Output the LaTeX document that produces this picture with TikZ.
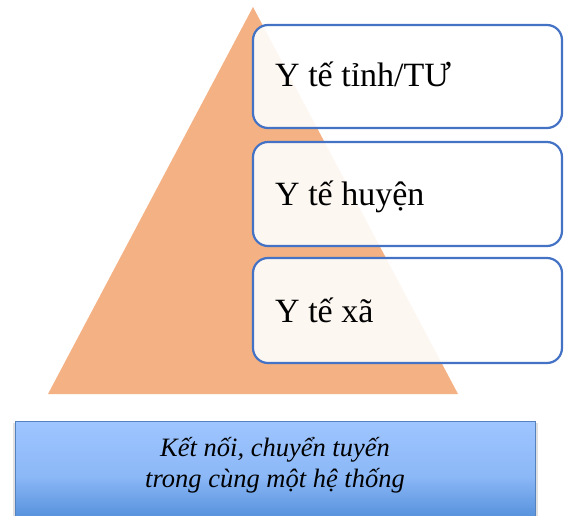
\documentclass[tikz,border=0pt]{standalone}
\usepackage{fontspec}
\setmainfont{Liberation Serif}
\definecolor{tri}{RGB}{244,177,131}
\definecolor{boxline}{RGB}{68,114,196}
\definecolor{gtop}{RGB}{158,197,255}
\definecolor{gmid}{RGB}{140,184,247}
\definecolor{gbot}{RGB}{70,134,212}
\definecolor{bline}{RGB}{84,130,190}
\tikzset{
  levelbox/.style={draw=boxline, line width=2.2pt, fill=white, fill opacity=0.9, rounded corners=15pt},
  leveltext/.style={anchor=base west, inner sep=0pt, font=\fontsize{34}{40}\selectfont},
  bottext/.style={anchor=base, inner sep=0pt, font=\fontsize{26.5}{31}\selectfont\itshape},
}
\begin{document}
\begin{tikzpicture}[x=1pt,y=-1pt]
\useasboundingbox (0,0) rectangle (565,516);
% pyramid
\fill[tri] (253,7) -- (458,394) -- (48,394) -- cycle;
% level boxes
\draw[levelbox] (253,25) rectangle (562,128);
\draw[levelbox] (253,142) rectangle (562,246);
\draw[levelbox] (253,258) rectangle (562,363);
\node[leveltext] (t1) at (275,87) {Y tế tỉnh/TƯ};
\node[leveltext] (t2) at (275,205) {Y tế huyện};
\node[leveltext] (t3) at (275,322) {Y tế xã};
% bottom box
\fill[black, opacity=0.12] (13,423) rectangle (538,530);
\shade[top color=gtop, bottom color=gbot, middle color=gmid] (15,421) rectangle (535,530);
\draw[bline, line width=0.8pt] (15,530) -- (15,421) -- (535,421) -- (535,530);
\node[bottext] (b1) at (275,456) {Kết nối, chuyển tuyến};
\node[bottext] (b2) at (275,487) {trong cùng một hệ thống};
\end{tikzpicture}
\end{document}
